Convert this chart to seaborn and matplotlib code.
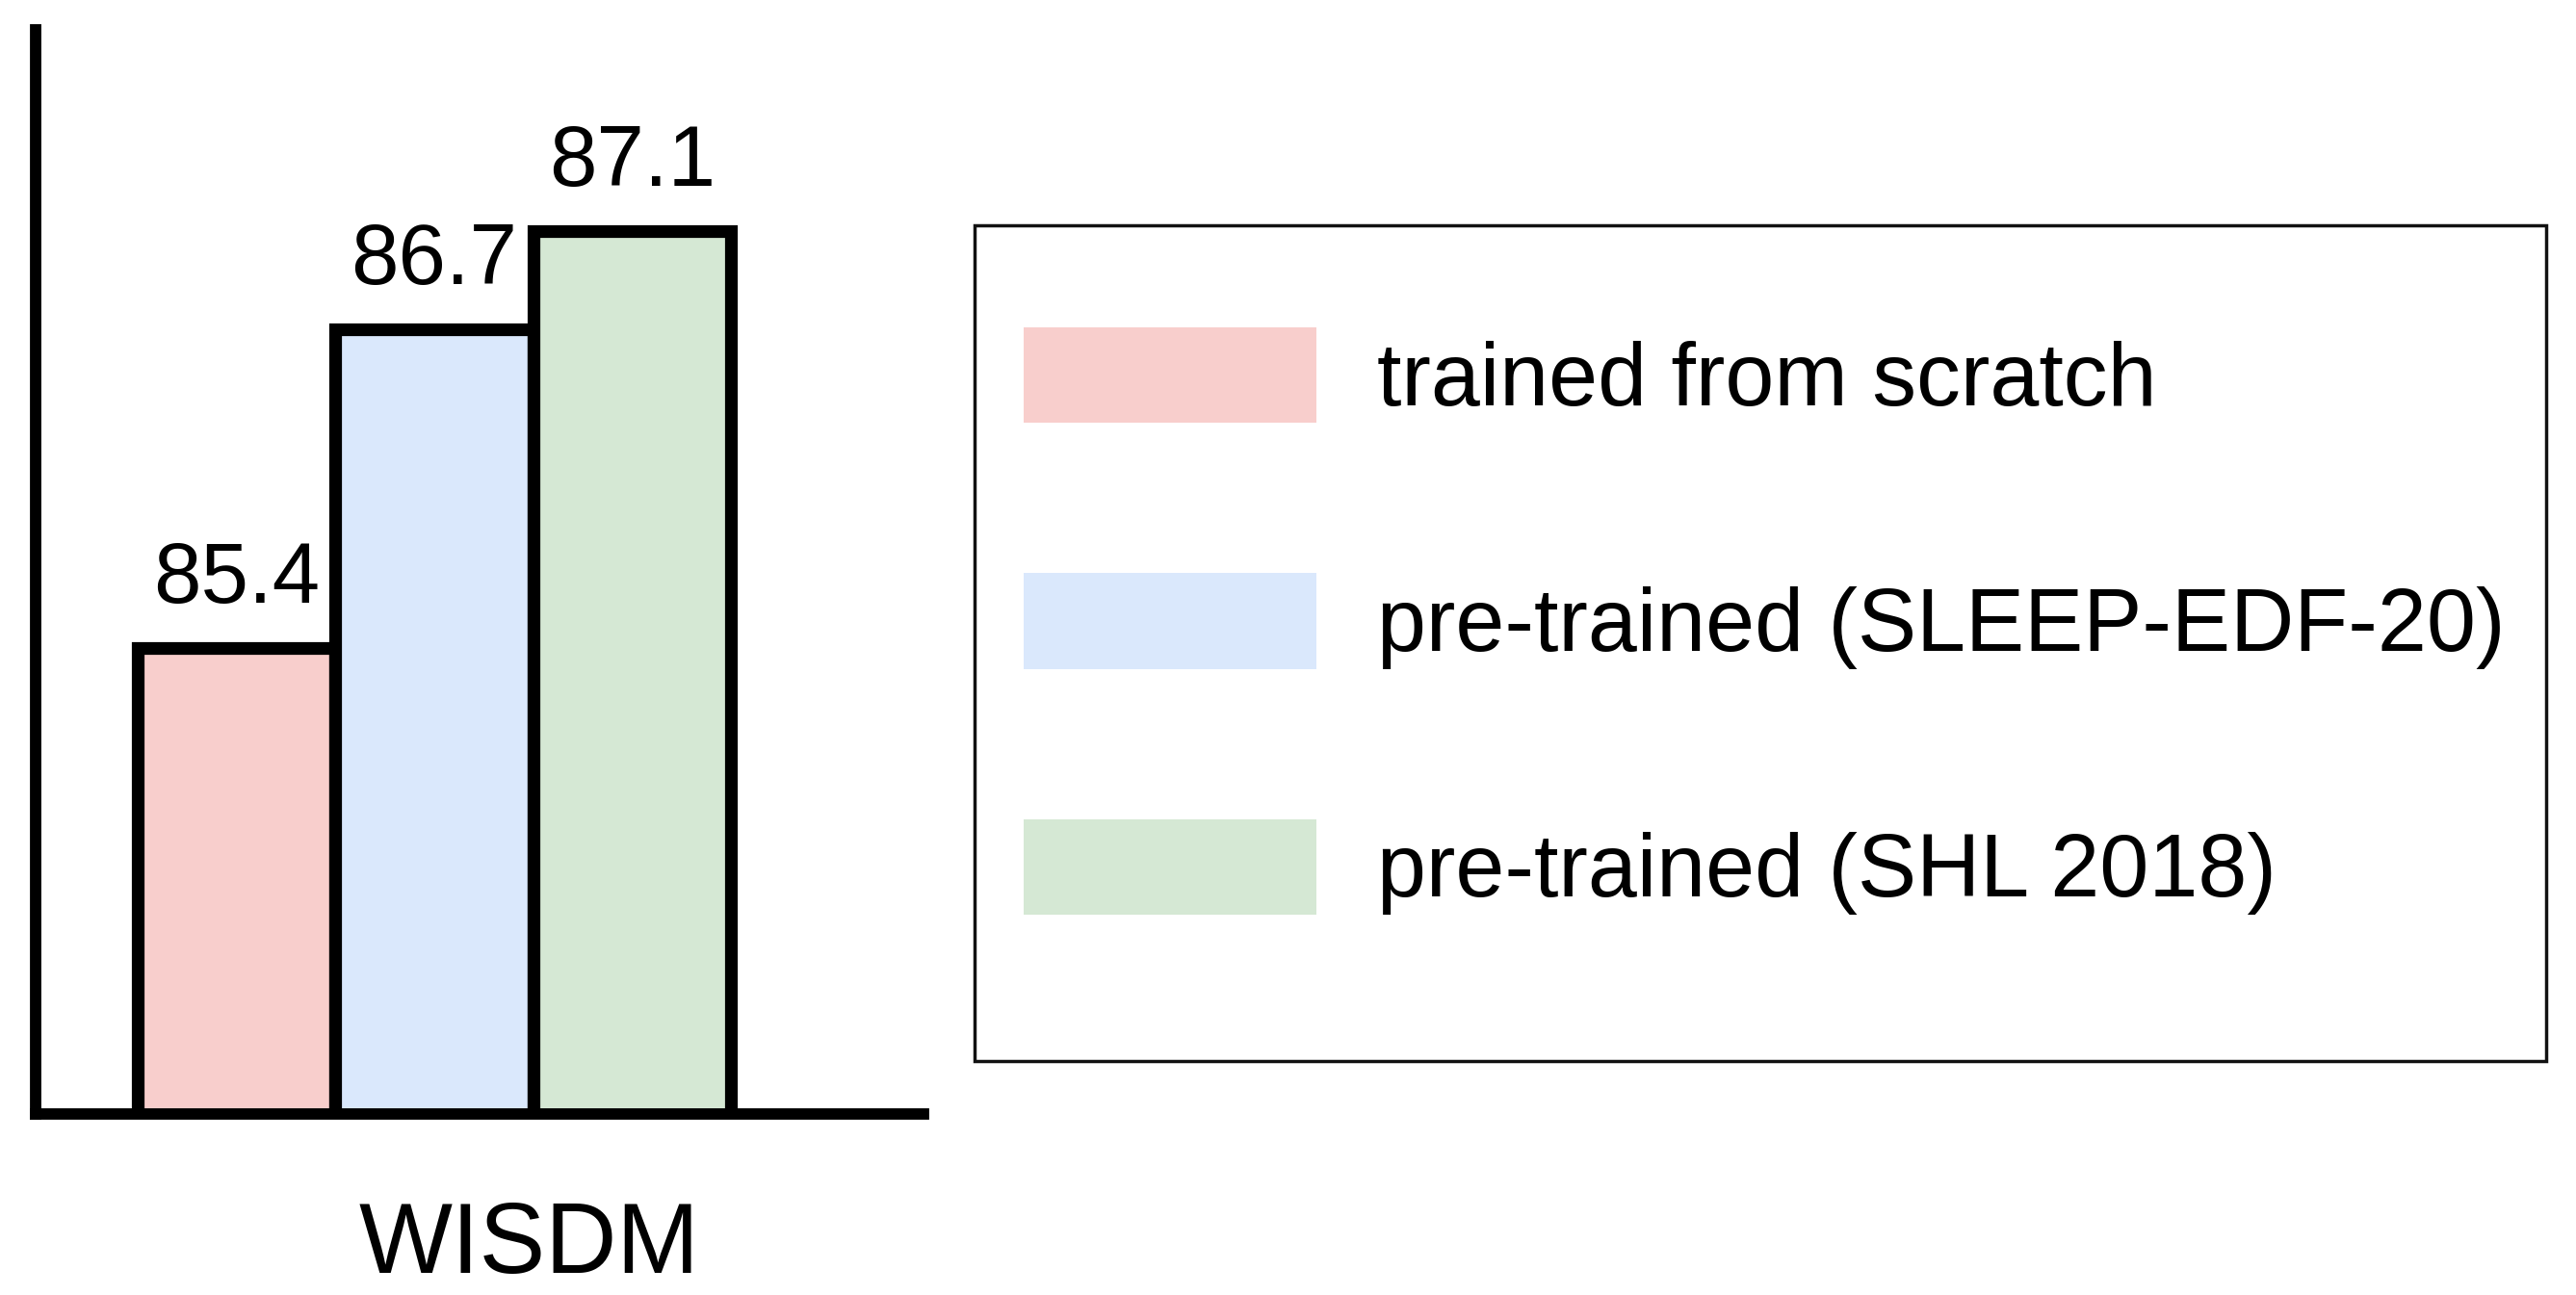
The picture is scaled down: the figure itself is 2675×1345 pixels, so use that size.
import matplotlib
matplotlib.use("Agg")
import matplotlib.pyplot as plt
import matplotlib.patches as mpatches
import pandas as pd
import seaborn as sns

# data
dataset = "WISDM"
settings = ["trained from scratch", "pre-trained (SLEEP-EDF-20)", "pre-trained (SHL 2018)"]
accuracy = [85.4, 86.7, 87.1]
colors = ["#F8CECC", "#DAE8FC", "#D5E8D4"]

df = pd.DataFrame({
    "dataset": [dataset] * len(settings),
    "setting": settings,
    "accuracy": accuracy,
})

sns.set_theme(style="white")
plt.rcParams["font.family"] = ["Liberation Sans", "DejaVu Sans"]
plt.rcParams["text.color"] = "black"

fig = plt.figure(figsize=(26.75, 13.45), dpi=100)
ax = fig.add_axes([0.0138, 0.1398, 0.3447, 0.8372])

sns.barplot(data=df, x="dataset", y="accuracy", hue="setting",
            hue_order=settings, palette=dict(zip(settings, colors)),
            saturation=1, errorbar=None, edgecolor="black", linewidth=9.5,
            legend=False, ax=ax)

for cont in ax.containers:
    ax.bar_label(cont, fmt="%.1f", padding=20, fontsize=64, color="black")

ax.set_ylim(83.5, 87.92)
ax.set_xlim(-0.538, 0.66)
ax.set_yticks([])
ax.set_xticks([])
ax.set_ylabel("")
ax.set_xlabel(dataset, fontsize=74, color="black")
ax.xaxis.set_label_coords(0.556, -0.08)

sns.despine(ax=ax)
for side in ["left", "bottom"]:
    ax.spines[side].set_linewidth(8.5)
    ax.spines[side].set_color("black")
    ax.spines[side].set_capstyle("projecting")

# legend (no edges on patches), box drawn separately
handles = [mpatches.Patch(facecolor=c, edgecolor="none") for c in colors]
ax.legend(handles, settings, loc="center left", bbox_to_anchor=(0.3974, 0.5204),
          bbox_transform=fig.transFigure, frameon=False, borderpad=0,
          borderaxespad=0, fontsize=66, handlelength=3.32, handleheight=1.29,
          handletextpad=0.68, labelspacing=1.7, labelcolor="black")

box = mpatches.Rectangle((0.3783, 0.1807), 0.6101, 0.6454, transform=fig.transFigure,
                         fill=False, edgecolor="#111111", linewidth=2.5)
fig.patches.append(box)

fig.savefig("out.png", dpi=100)
